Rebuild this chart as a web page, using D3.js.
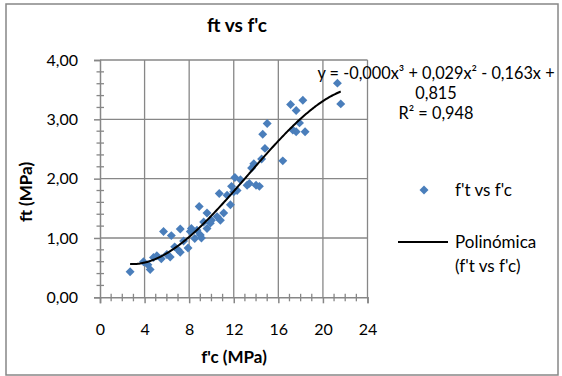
<!DOCTYPE html>
<html lang="es">
<head>
<meta charset="UTF-8">
<title>ft vs f'c</title>
<style>
  body { margin: 0; background: #fff; }
  svg text { font-family: Lato, "Liberation Sans", sans-serif; fill: #000; }
</style>
</head>
<body>
<svg id="chart" width="562" height="376"></svg>
<script src="https://cdn.jsdelivr.net/npm/d3@7"></script>
<script>
// f'c (MPa) and f't (MPa)
const fc = [2.7, 3.9, 4.3, 4.5, 4.8, 5.1, 5.5, 5.7, 6.0, 6.3,
            6.4, 6.7, 7.0, 7.2, 7.2, 7.5, 7.9, 8.1, 8.2, 8.5,
            8.7, 8.9, 9.1, 9.0, 9.3, 9.6, 9.6, 9.9, 10.0, 10.5,
            10.7, 10.8, 11.1, 11.4, 11.7, 11.8, 12.0, 12.1, 12.3, 12.6,
            13.2, 13.4, 13.6, 13.8, 14.0, 14.3, 14.5, 14.6, 14.8, 15.0,
            16.4, 17.1, 17.3, 17.6, 17.6, 17.9, 18.2, 18.4, 21.3, 21.6];
const ft = [0.43, 0.60, 0.55, 0.47, 0.67, 0.70, 0.65, 1.11, 0.72, 0.68,
            1.04, 0.85, 0.80, 1.15, 0.76, 0.95, 0.83, 1.11, 1.16, 0.99,
            1.13, 1.53, 1.00, 1.05, 1.27, 1.42, 1.16, 1.25, 1.30, 1.36,
            1.75, 1.30, 1.42, 1.72, 1.56, 1.87, 1.78, 2.02, 1.80, 1.98,
            1.89, 1.92, 2.18, 2.25, 1.89, 1.87, 2.33, 2.75, 2.51, 2.93,
            2.30, 3.25, 2.82, 3.15, 2.79, 2.94, 3.32, 2.79, 3.61, 3.26];

const xTicks = [0, 4, 8, 12, 16, 20, 24];
const yTicks = [0, 1, 2, 3, 4];
const eqLines = ["y = -0,000x\u00b3 + 0,029x\u00b2 - 0,163x +", "0,815", "R\u00b2 = 0,948"];
const legendLabels = ["f't vs f'c", "Polinómica", "(f't vs f'c)"];

const points = fc.map((d, i) => ({ x: d, y: ft[i] }));

// cubic least squares, same as the Excel trendline
function polyfit(xs, ys, deg) {
  const n = deg + 1;
  const A = Array.from({ length: n }, () => new Array(n + 1).fill(0));
  xs.forEach((x, k) => {
    for (let i = 0; i < n; i++) {
      for (let j = 0; j < n; j++) A[i][j] += Math.pow(x, i + j);
      A[i][n] += ys[k] * Math.pow(x, i);
    }
  });
  for (let c = 0; c < n; c++) {
    let p = c;
    for (let r = c + 1; r < n; r++) if (Math.abs(A[r][c]) > Math.abs(A[p][c])) p = r;
    [A[c], A[p]] = [A[p], A[c]];
    for (let r = 0; r < n; r++) {
      if (r === c) continue;
      const f = A[r][c] / A[c][c];
      for (let k = c; k <= n; k++) A[r][k] -= f * A[c][k];
    }
  }
  return A.map((row, i) => row[n] / row[i]);
}
const coef = polyfit(fc, ft, 3);
const poly = x => coef.reduce((s, c, i) => s + c * Math.pow(x, i), 0);
const curve = d3.range(d3.min(fc), d3.max(fc) + 0.001, 0.1).map(x => ({ x, y: poly(x) }));

const svg = d3.select("#chart");
const gridColor = "#878787";

svg.append("rect")
  .attr("x", 6).attr("y", 4).attr("width", 552).attr("height", 371)
  .attr("fill", "#fff").attr("stroke", gridColor).attr("stroke-width", 1.5);

const x = d3.scaleLinear().domain([0, 24]).range([100, 367.5]);
const y = d3.scaleLinear().domain([0, 4]).range([297.3, 60]);

// gridlines
svg.append("g").selectAll("line").data(xTicks.slice(1)).join("line")
  .attr("x1", d => x(d)).attr("x2", d => x(d))
  .attr("y1", y(0)).attr("y2", y(4))
  .attr("stroke", gridColor).attr("stroke-width", 1.3);
svg.append("g").selectAll("line").data(yTicks.slice(1)).join("line")
  .attr("x1", x(0)).attr("x2", x(24))
  .attr("y1", d => y(d)).attr("y2", d => y(d))
  .attr("stroke", gridColor).attr("stroke-width", 1.3);

// axes: major ticks outside, minor ticks crossing
const yAxis = svg.append("g").attr("transform", `translate(${x(0)},0)`)
  .call(d3.axisLeft(y).tickValues(yTicks).tickSize(6).tickPadding(16)
    .tickFormat(d => d3.format(".2f")(d).replace(".", ",")));
const xAxis = svg.append("g").attr("transform", `translate(0,${y(0)})`)
  .call(d3.axisBottom(x).tickValues(xTicks).tickSize(6).tickPadding(24));
[yAxis, xAxis].forEach(g => {
  g.select(".domain").attr("stroke", gridColor).attr("stroke-width", 1.5);
  g.selectAll(".tick line").attr("stroke", gridColor).attr("stroke-width", 1.5);
  g.selectAll("text").attr("font-size", 16).attr("font-family", "Lato, sans-serif");
});
xAxis.selectAll("text").attr("dy", "0.5em");

const yMinor = d3.range(0.2, 4, 0.2).filter(v => Math.abs(v - Math.round(v)) > 0.01);
svg.append("g").selectAll("line").data(yMinor).join("line")
  .attr("x1", x(0) - 3.5).attr("x2", x(0) + 4)
  .attr("y1", d => y(d)).attr("y2", d => y(d))
  .attr("stroke", gridColor).attr("stroke-width", 1.3);
const xMinor = d3.range(1, 24, 1).filter(v => v % 4 !== 0);
svg.append("g").selectAll("line").data(xMinor).join("line")
  .attr("x1", d => x(d)).attr("x2", d => x(d))
  .attr("y1", y(0) - 3.5).attr("y2", y(0) + 4)
  .attr("stroke", gridColor).attr("stroke-width", 1.3);

// scatter
const diamond = d3.symbol().type(d3.symbolSquare).size(40);
svg.append("g").selectAll("path").data(points).join("path")
  .attr("d", diamond)
  .attr("transform", d => `translate(${x(d.x)},${y(d.y)}) rotate(45)`)
  .attr("fill", "#4a7ebb");

// trendline
svg.append("path").datum(curve)
  .attr("d", d3.line().x(d => x(d.x)).y(d => y(d.y)).curve(d3.curveMonotoneX))
  .attr("fill", "none").attr("stroke", "#000").attr("stroke-width", 2);

// titles
svg.append("text").attr("x", 237).attr("y", 32).attr("text-anchor", "middle")
  .attr("font-size", 19).attr("font-weight", "bold").text("ft vs f'c");
svg.append("text").attr("x", 234).attr("y", 363).attr("text-anchor", "middle")
  .attr("font-size", 17).attr("font-weight", "bold").text("f'c (MPa)");
svg.append("text").attr("transform", "translate(32,192) rotate(-90)").attr("text-anchor", "middle")
  .attr("font-size", 17).attr("font-weight", "bold").text("ft (MPa)");

// equation label
svg.append("g").selectAll("text").data(eqLines).join("text")
  .attr("x", 436).attr("y", (d, i) => 79 + i * 20).attr("text-anchor", "middle")
  .attr("font-size", 16.3).text(d => d);

// legend
svg.append("path").attr("d", diamond)
  .attr("transform", `translate(424,190) rotate(45)`).attr("fill", "#4a7ebb");
svg.append("text").attr("x", 455).attr("y", 196).attr("font-size", 17).text(legendLabels[0]);
svg.append("line").attr("x1", 398).attr("x2", 448).attr("y1", 242).attr("y2", 242)
  .attr("stroke", "#000").attr("stroke-width", 2);
svg.append("text").attr("x", 455).attr("y", 248).attr("font-size", 17).text(legendLabels[1]);
svg.append("text").attr("x", 455).attr("y", 272).attr("font-size", 17).text(legendLabels[2]);
</script>
</body>
</html>
